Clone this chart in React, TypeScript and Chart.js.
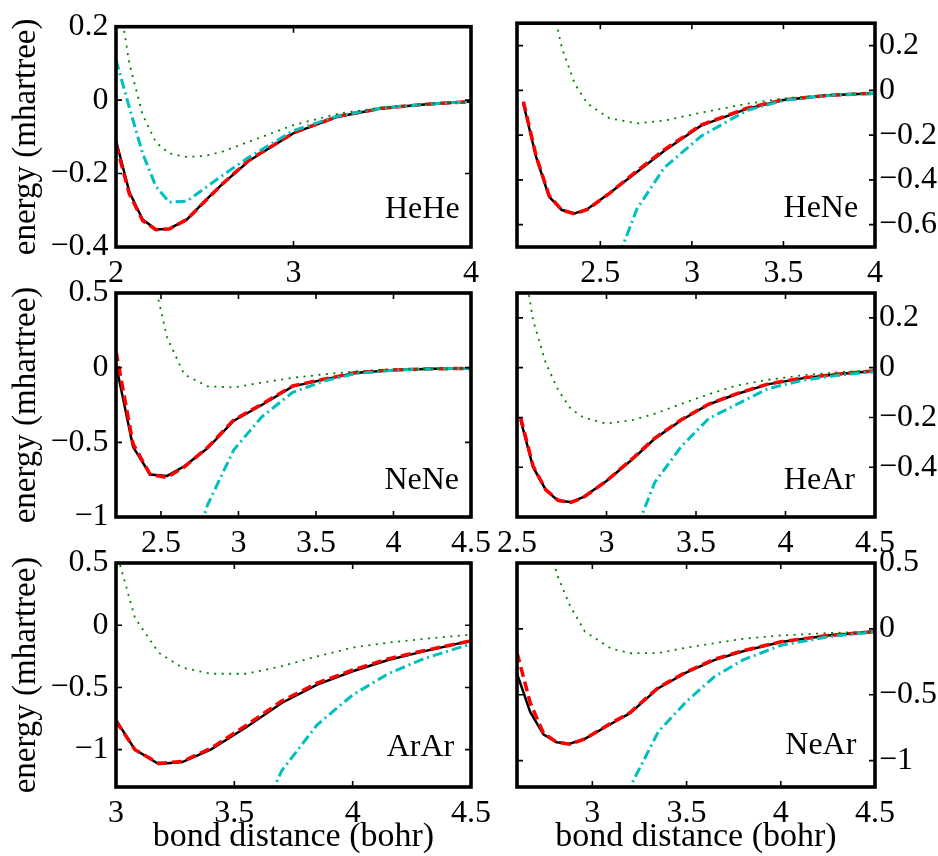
import React, { useEffect, useRef } from 'react';
import { Chart, registerables } from 'chart.js';

Chart.register(...registerables);
Chart.defaults.font.family = '"Liberation Serif", "Times New Roman", serif';
Chart.defaults.color = '#000';

// ---------- data (energy in mhartree vs bond distance in bohr) ----------
// HeHe
const heheX = [2.0, 2.075, 2.15, 2.225, 2.3, 2.4, 2.5, 2.6, 2.75, 3.0, 3.25, 3.5, 3.75, 4.0];
const heheExact = [-0.11, -0.25, -0.325, -0.352, -0.35, -0.325, -0.275, -0.228, -0.165, -0.09, -0.045, -0.022, -0.011, -0.004];
const heheRed = [-0.12, -0.255, -0.328, -0.353, -0.351, -0.325, -0.276, -0.228, -0.163, -0.089, -0.044, -0.022, -0.011, -0.004];
const heheCyan = [0.11, -0.02, -0.145, -0.235, -0.278, -0.275, -0.24, -0.205, -0.155, -0.083, -0.043, -0.021, -0.011, -0.004];
const heheGreen = [0.33, 0.1, -0.04, -0.115, -0.145, -0.155, -0.152, -0.14, -0.113, -0.068, -0.037, -0.02, -0.01, -0.004];

// HeNe
const heneX = [2.08, 2.15, 2.22, 2.29, 2.36, 2.43, 2.55, 2.7, 2.85, 3.05, 3.3, 3.5, 3.75, 4.0];
const heneExact = [-0.06, -0.3, -0.475, -0.535, -0.55, -0.53, -0.46, -0.365, -0.27, -0.158, -0.083, -0.043, -0.022, -0.013];
const heneRed = [-0.05, -0.295, -0.47, -0.535, -0.552, -0.532, -0.46, -0.36, -0.265, -0.155, -0.08, -0.042, -0.022, -0.013];
const heneCyan = [null, null, null, null, null, -1.25, -0.85, -0.53, -0.345, -0.205, -0.09, -0.045, -0.022, -0.013];
const heneGreen = [null, 0.9, 0.45, 0.19, 0.03, -0.06, -0.125, -0.148, -0.135, -0.1, -0.06, -0.036, -0.02, -0.012];

// NeNe
const neneX = [2.21, 2.32, 2.43, 2.54, 2.65, 2.8, 2.97, 3.15, 3.35, 3.55, 3.75, 4.0, 4.25, 4.5];
const neneExact = [0.02, -0.53, -0.715, -0.725, -0.66, -0.54, -0.355, -0.25, -0.125, -0.08, -0.035, -0.015, -0.008, -0.005];
const neneRed = [0.11, -0.51, -0.715, -0.735, -0.665, -0.535, -0.35, -0.245, -0.122, -0.078, -0.034, -0.015, -0.008, -0.005];
const neneCyan = [null, null, null, null, -1.45, -0.92, -0.55, -0.33, -0.165, -0.09, -0.04, -0.017, -0.008, -0.005];
const neneGreen = [null, null, 0.7, 0.2, -0.045, -0.125, -0.132, -0.1, -0.068, -0.045, -0.025, -0.012, -0.007, -0.004];

// HeAr
const hearX = [2.52, 2.59, 2.66, 2.73, 2.8, 2.87, 3.0, 3.15, 3.27, 3.42, 3.57, 3.72, 3.9, 4.1, 4.3, 4.5];
const hearExact = [-0.21, -0.4, -0.49, -0.535, -0.54, -0.52, -0.455, -0.365, -0.285, -0.21, -0.148, -0.108, -0.067, -0.042, -0.025, -0.013];
const hearRed = [-0.2, -0.395, -0.49, -0.533, -0.542, -0.522, -0.455, -0.362, -0.283, -0.208, -0.147, -0.106, -0.066, -0.041, -0.025, -0.013];
const hearCyan = [null, null, null, null, null, null, -1.1, -0.68, -0.46, -0.315, -0.205, -0.15, -0.085, -0.05, -0.03, -0.016];
const hearGreen = [0.5, 0.19, 0.02, -0.09, -0.165, -0.2, -0.225, -0.21, -0.185, -0.145, -0.107, -0.073, -0.049, -0.03, -0.018, -0.01];

// ArAr
const ararX = [3.0, 3.08, 3.18, 3.28, 3.4, 3.55, 3.7, 3.85, 4.0, 4.15, 4.3, 4.5];
const ararExact = [-0.76, -1.0, -1.115, -1.1, -1.0, -0.82, -0.625, -0.477, -0.37, -0.28, -0.21, -0.125];
const ararRed = [-0.77, -1.0, -1.11, -1.095, -0.99, -0.805, -0.61, -0.465, -0.36, -0.27, -0.205, -0.125];
const ararCyan = [null, null, null, null, null, -1.8, -1.17, -0.8, -0.56, -0.39, -0.27, -0.15];
const ararGreen = [0.6, 0.06, -0.22, -0.34, -0.39, -0.39, -0.33, -0.25, -0.18, -0.14, -0.11, -0.075];

// NeAr
const nearX = [2.6, 2.67, 2.74, 2.81, 2.88, 2.96, 3.1, 3.2, 3.35, 3.5, 3.65, 3.8, 4.0, 4.25, 4.5];
const nearExact = [-0.34, -0.63, -0.8, -0.86, -0.872, -0.835, -0.72, -0.64, -0.45, -0.33, -0.235, -0.17, -0.1, -0.05, -0.02];
const nearRed = [-0.18, -0.56, -0.79, -0.86, -0.875, -0.835, -0.715, -0.635, -0.445, -0.325, -0.23, -0.165, -0.098, -0.05, -0.02];
const nearCyan = [null, null, null, null, null, null, -1.7, -1.2, -0.78, -0.55, -0.36, -0.235, -0.125, -0.06, -0.022];
const nearGreen = [null, null, 0.9, 0.42, 0.18, -0.02, -0.15, -0.185, -0.183, -0.142, -0.108, -0.075, -0.05, -0.032, -0.02];

// tick labels
const heheXTicks = [2, 3, 4];
const heheYTicks = [-0.4, -0.2, 0, 0.2];
const heneXTicks = [2.5, 3, 3.5, 4];
const heneYTicks = [-0.6, -0.4, -0.2, 0, 0.2];
const neneXTicks = [2.5, 3, 3.5, 4, 4.5];
const neneYTicks = [-1, -0.5, 0, 0.5];
const hearXTicks = [2.5, 3, 3.5, 4, 4.5];
const hearYTicks = [-0.4, -0.2, 0, 0.2];
const ararXTicks = [3, 3.5, 4, 4.5];
const ararYTicks = [-1, -0.5, 0, 0.5];
const nearXTicks = [3, 3.5, 4, 4.5];
const nearYTicks = [-1, -0.5, 0, 0.5];

type Num = number | null;
type Panel = {
  name: string;
  x: number[];
  exact: Num[];
  red: Num[];
  cyan: Num[];
  green: Num[];
  xRange: [number, number];
  yRange: [number, number];
  xTicks: number[];
  yTicks: number[];
  side: 'left' | 'right';
  box: [number, number, number, number];
  labelAt: [number, number];
  bottomRow: boolean;
};

const panels: Panel[] = [
  { name: 'HeHe', x: heheX, exact: heheExact, red: heheRed, cyan: heheCyan, green: heheGreen,
    xRange: [2, 4], yRange: [-0.4, 0.2], xTicks: heheXTicks, yTicks: heheYTicks,
    side: 'left', box: [116, 23, 471, 247], labelAt: [3.936, -0.322], bottomRow: false },
  { name: 'HeNe', x: heneX, exact: heneExact, red: heneRed, cyan: heneCyan, green: heneGreen,
    xRange: [2.045, 4], yRange: [-0.7, 0.3], xTicks: heneXTicks, yTicks: heneYTicks,
    side: 'right', box: [517, 23, 875, 247], labelAt: [3.908, -0.566], bottomRow: false },
  { name: 'NeNe', x: neneX, exact: neneExact, red: neneRed, cyan: neneCyan, green: neneGreen,
    xRange: [2.21, 4.5], yRange: [-1, 0.5], xTicks: neneXTicks, yTicks: neneYTicks,
    side: 'left', box: [116, 293, 471, 517], labelAt: [4.423, -0.813], bottomRow: false },
  { name: 'HeAr', x: hearX, exact: hearExact, red: hearRed, cyan: hearCyan, green: hearGreen,
    xRange: [2.5, 4.5], yRange: [-0.6, 0.3], xTicks: hearXTicks, yTicks: hearYTicks,
    side: 'right', box: [517, 293, 875, 517], labelAt: [4.388, -0.488], bottomRow: false },
  { name: 'ArAr', x: ararX, exact: ararExact, red: ararRed, cyan: ararCyan, green: ararGreen,
    xRange: [3, 4.5], yRange: [-1.3, 0.5], xTicks: ararXTicks, yTicks: ararYTicks,
    side: 'left', box: [116, 563, 471, 787], labelAt: [4.429, -1.054], bottomRow: true },
  { name: 'NeAr', x: nearX, exact: nearExact, red: nearRed, cyan: nearCyan, green: nearGreen,
    xRange: [2.6, 4.5], yRange: [-1.2, 0.5], xTicks: nearXTicks, yTicks: nearYTicks,
    side: 'right', box: [517, 563, 875, 787], labelAt: [4.401, -0.946], bottomRow: true },
];

const PAGE_W = 938;
const PAGE_H = 856;

const fmt = (v: number | string) => {
  const n = Number(v);
  if (n === 0) return '0';
  return (n < 0 ? '\u2212' : '') + String(Math.abs(n));
};

const framePlugin = {
  id: 'frame',
  afterDraw(chart: any, _args: any, opts: any) {
    const { ctx, chartArea: a, scales } = chart;
    const xs = scales.x;
    const ys = scales.y;
    ctx.save();
    ctx.strokeStyle = '#000';
    ctx.lineWidth = 1.6;
    const tl = 6;
    ctx.beginPath();
    for (const t of xs.ticks) {
      const px = xs.getPixelForValue(t.value);
      if (px <= a.left + 1 || px >= a.right - 1) continue;
      ctx.moveTo(px, a.bottom);
      ctx.lineTo(px, a.bottom - tl);
      ctx.moveTo(px, a.top);
      ctx.lineTo(px, a.top + tl);
    }
    for (const t of ys.ticks) {
      const py = ys.getPixelForValue(t.value);
      if (py <= a.top + 1 || py >= a.bottom - 1) continue;
      ctx.moveTo(a.left, py);
      ctx.lineTo(a.left + tl, py);
      ctx.moveTo(a.right, py);
      ctx.lineTo(a.right - tl, py);
    }
    ctx.stroke();
    ctx.lineWidth = 3.6;
    ctx.lineJoin = 'miter';
    ctx.strokeRect(a.left, a.top, a.right - a.left, a.bottom - a.top);
    ctx.font = '32px "Liberation Serif", "Times New Roman", serif';
    ctx.fillStyle = '#000';
    ctx.textAlign = 'right';
    ctx.textBaseline = 'alphabetic';
    ctx.fillText(opts.name, xs.getPixelForValue(opts.labelX), ys.getPixelForValue(opts.labelY));
    ctx.restore();
  },
};

function makeConfig(p: Panel): any {
  const [L, T, R, B] = p.box;
  const left = p.side === 'left';
  const yW = left ? 108 : PAGE_W - R;
  const xH = p.bottomRow ? PAGE_H - B : 50;
  const padding = {
    left: left ? L - yW : L,
    right: left ? PAGE_W - R : 0,
    top: T,
    bottom: PAGE_H - B - xH,
  };
  const pts = (ys: Num[]) => p.x.map((x, i) => ({ x, y: ys[i] }));
  const common = { pointRadius: 0, pointHoverRadius: 0, tension: 0, fill: false, spanGaps: false };
  return {
    type: 'line',
    data: {
      datasets: [
        { ...common, label: 'green', data: pts(p.green), borderColor: 'rgb(0,128,0)', borderWidth: 1.8, borderDash: [2, 5.5], order: 0 },
        { ...common, label: 'cyan', data: pts(p.cyan), borderColor: 'rgb(0,191,191)', borderWidth: 3, borderDash: [10, 4, 2, 4], order: 1 },
        { ...common, label: 'red', data: pts(p.red), borderColor: 'rgb(255,0,0)', borderWidth: 3.5, borderDash: [10, 5], order: 2 },
        { ...common, label: 'exact', data: pts(p.exact), borderColor: '#000', borderWidth: 2.5, order: 3 },
      ],
    },
    options: {
      responsive: false,
      animation: false,
      devicePixelRatio: 1,
      events: [],
      layout: { padding },
      plugins: {
        legend: { display: false },
        tooltip: { enabled: false },
        frame: { name: p.name, labelX: p.labelAt[0], labelY: p.labelAt[1] },
      },
      scales: {
        x: {
          type: 'linear',
          position: 'bottom',
          min: p.xRange[0],
          max: p.xRange[1],
          afterBuildTicks: (s: any) => { s.ticks = p.xTicks.map((v) => ({ value: v })); },
          afterFit: (s: any) => { s.height = xH; },
          grid: { display: false, drawTicks: false },
          border: { display: false },
          ticks: { color: '#000', font: { size: 32 }, padding: 7, maxRotation: 0, autoSkip: false, callback: fmt },
          title: {
            display: p.bottomRow,
            text: 'bond distance (bohr)',
            color: '#000',
            font: { size: 34, lineHeight: 1 },
            padding: { top: 0, bottom: 1.5 },
          },
        },
        y: {
          type: 'linear',
          position: p.side,
          min: p.yRange[0],
          max: p.yRange[1],
          afterBuildTicks: (s: any) => { s.ticks = p.yTicks.map((v) => ({ value: v })); },
          afterFit: (s: any) => { s.width = yW; },
          grid: { display: false, drawTicks: false },
          border: { display: false },
          ticks: { color: '#000', font: { size: 32 }, padding: left ? 7.5 : 4, autoSkip: false, callback: fmt },
          title: {
            display: left,
            text: 'energy (mhartree)',
            color: '#000',
            font: { size: 33, lineHeight: 1 },
            padding: { top: 2, bottom: 0 },
          },
        },
      },
    },
    plugins: [framePlugin],
  };
}

export default function App() {
  const refs = useRef<(HTMLCanvasElement | null)[]>([]);
  useEffect(() => {
    const charts = panels.map((p, i) => new Chart(refs.current[i] as HTMLCanvasElement, makeConfig(p)));
    return () => charts.forEach((c) => c.destroy());
  }, []);
  return (
    <div style={{ position: 'absolute', left: 0, top: 0, width: PAGE_W, height: PAGE_H, background: '#fff', overflow: 'hidden' }}>
      {panels.map((p, i) => (
        <canvas
          key={p.name}
          ref={(el) => { refs.current[i] = el; }}
          width={PAGE_W}
          height={PAGE_H}
          style={{ position: 'absolute', left: 0, top: 0 }}
        />
      ))}
    </div>
  );
}
